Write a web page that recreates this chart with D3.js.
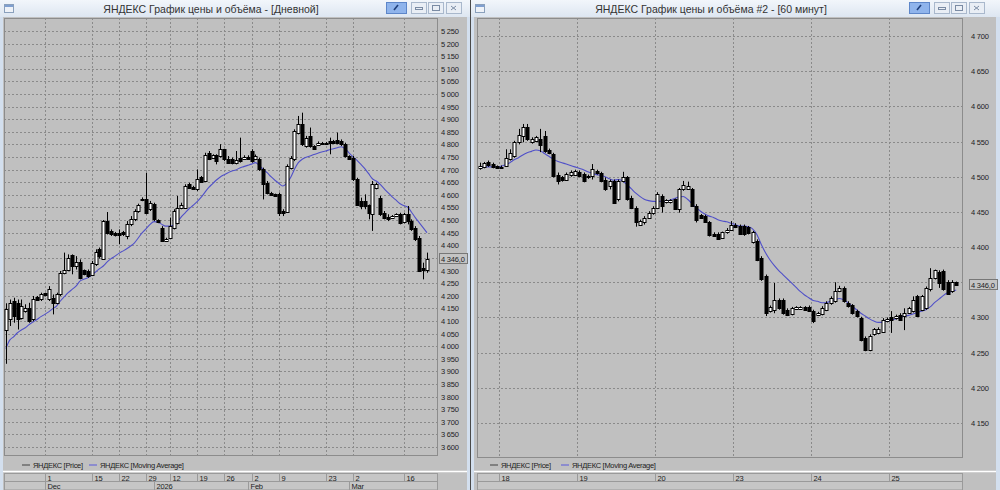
<!DOCTYPE html>
<html><head><meta charset="utf-8">
<script src="https://cdn.jsdelivr.net/npm/d3@7"></script>
<style>
body{margin:0;background:#dce6f2;}
svg{display:block;}
text{font-family:"Liberation Sans",Arial,sans-serif;}
</style></head><body>
<svg id="c" width="1000" height="490"></svg>
<script>
// ---------- DATA: daily chart ----------
const dailyOpen  = [4066,4106,4179,4172,4113,4139,4152,4106,4195,4188,4209,4188,4192,4172,4205,4291,4304,4361,4318,4334,4301,4298,4281,4324,4384,4347,4496,4457,4450,4447,4453,4437,4483,4503,4536,4578,4582,4543,4562,4500,4470,4417,4430,4470,4490,4549,4549,4642,4633,4622,4672,4655,4767,4748,4758,4754,4781,4744,4741,4725,4748,4744,4752,4774,4741,4741,4701,4648,4609,4602,4602,4536,4532,4708,4741,4847,4880,4794,4834,4794,4797,4807,4801,4814,4814,4818,4814,4801,4754,4748,4662,4576,4576,4558,4523,4629,4589,4529,4513,4510,4516,4523,4492,4523,4496,4470,4430,4311,4304];
const dailyHigh  = [4170,4185,4192,4185,4185,4166,4172,4199,4199,4212,4212,4238,4205,4212,4298,4371,4364,4364,4357,4344,4304,4304,4338,4384,4391,4500,4532,4463,4453,4463,4457,4496,4516,4543,4565,4590,4688,4576,4569,4503,4476,4430,4510,4543,4596,4569,4642,4648,4636,4701,4675,4767,4774,4761,4761,4801,4783,4754,4748,4774,4827,4757,4757,4781,4760,4748,4708,4655,4612,4605,4609,4543,4721,4754,4860,4913,4926,4834,4867,4797,4812,4810,4810,4827,4818,4847,4820,4807,4757,4754,4668,4589,4602,4562,4655,4648,4596,4536,4523,4520,4527,4529,4529,4556,4503,4476,4437,4331,4371];
const dailyLow   = [3930,4080,4093,4066,4106,4133,4093,4099,4180,4179,4198,4179,4126,4166,4199,4285,4298,4285,4304,4265,4281,4271,4278,4318,4347,4344,4443,4437,4435,4404,4437,4424,4476,4496,4529,4575,4523,4536,4496,4488,4413,4413,4426,4463,4483,4543,4545,4625,4620,4615,4648,4651,4738,4744,4721,4748,4734,4725,4721,4721,4728,4741,4740,4728,4738,4695,4582,4602,4596,4592,4516,4516,4529,4701,4734,4840,4794,4787,4787,4780,4794,4798,4798,4761,4804,4801,4794,4748,4740,4655,4556,4543,4543,4503,4457,4622,4516,4503,4496,4506,4513,4483,4487,4483,4457,4417,4294,4265,4291];
const dailyClose = [4146,4172,4119,4106,4159,4152,4099,4188,4185,4205,4201,4225,4170,4205,4291,4304,4351,4318,4334,4271,4285,4278,4331,4373,4357,4496,4450,4443,4440,4440,4443,4483,4503,4536,4558,4584,4529,4569,4503,4492,4417,4426,4476,4536,4549,4558,4635,4629,4625,4662,4651,4757,4744,4757,4734,4781,4741,4728,4725,4737,4734,4752,4744,4734,4754,4701,4642,4609,4599,4596,4529,4527,4715,4748,4853,4880,4801,4827,4794,4783,4807,4801,4807,4805,4807,4807,4801,4754,4744,4662,4558,4556,4556,4529,4642,4642,4523,4510,4506,4516,4523,4490,4523,4496,4463,4424,4298,4302,4346];
const dailyMA    = [3990,4024,4037,4053,4064,4073,4086,4096,4106,4117,4126,4136,4148,4159,4179,4196,4212,4225,4238,4258,4265,4271,4281,4294,4307,4318,4334,4347,4357,4368,4377,4386,4397,4410,4430,4450,4466,4483,4494,4492,4483,4476,4476,4479,4492,4513,4529,4545,4558,4572,4589,4609,4629,4644,4659,4671,4680,4688,4695,4699,4707,4712,4717,4722,4728,4717,4701,4688,4672,4658,4646,4635,4646,4668,4701,4728,4741,4749,4754,4760,4765,4770,4774,4779,4783,4787,4791,4783,4767,4752,4738,4722,4705,4685,4664,4655,4642,4625,4609,4593,4580,4566,4558,4552,4532,4510,4490,4470,4450];
const dailyWeekTickIndex  = [10,22,29,36,42,49,56,63,70,82,89,102];
const dailyWeekTickLabels = ["1","15","22","29","12","19","26","2","9","23","2","16"];
const dailyMonthTickIndex  = [10,38,62,88];
const dailyMonthTickLabels = ["Dec","2026","Feb","Mar"];
const dailyPriceTicks = d3.range(3600, 5251, 50);

// ---------- DATA: 60-minute chart ----------
const hourOpen  = [4513,4514,4521,4518,4515,4513,4515,4525,4530,4549,4558,4570,4549,4551,4553,4558,4538,4532,4503,4499,4496,4502,4503,4507,4504,4499,4501,4508,4505,4496,4487,4494,4468,4494,4499,4470,4456,4432,4435,4442,4449,4456,4473,4464,4464,4468,4454,4482,4483,4482,4458,4445,4444,4435,4419,4419,4413,4421,4425,4432,4430,4430,4428,4407,4409,4385,4359,4309,4311,4325,4325,4311,4305,4312,4312,4315,4315,4309,4304,4305,4311,4320,4323,4337,4342,4321,4317,4309,4299,4271,4254,4276,4278,4280,4295,4301,4299,4304,4302,4307,4309,4330,4311,4313,4340,4356,4365,4366,4351,4337,4350];
const hourHigh  = [4520,4521,4523,4520,4516,4516,4539,4539,4551,4568,4575,4575,4556,4558,4568,4565,4540,4534,4506,4501,4506,4509,4510,4509,4506,4503,4518,4510,4507,4499,4496,4496,4496,4507,4501,4473,4458,4439,4444,4451,4458,4478,4475,4468,4468,4469,4484,4494,4493,4484,4461,4447,4446,4437,4421,4421,4422,4427,4437,4434,4432,4432,4430,4423,4411,4387,4361,4317,4349,4327,4327,4313,4315,4316,4316,4316,4317,4311,4308,4316,4323,4330,4350,4345,4344,4323,4319,4311,4301,4273,4276,4285,4286,4299,4300,4309,4304,4306,4313,4315,4330,4332,4332,4344,4370,4368,4367,4368,4353,4353,4351];
const hourLow   = [4510,4512,4514,4512,4511,4512,4514,4523,4527,4546,4549,4551,4547,4549,4535,4534,4532,4499,4489,4493,4494,4500,4501,4499,4492,4497,4496,4503,4492,4480,4482,4462,4465,4492,4466,4454,4429,4430,4432,4440,4446,4454,4449,4462,4462,4453,4449,4480,4482,4457,4435,4441,4435,4415,4415,4412,4413,4419,4423,4427,4418,4416,4418,4405,4380,4352,4302,4307,4306,4311,4304,4302,4303,4311,4311,4310,4309,4292,4302,4303,4309,4318,4321,4336,4321,4314,4304,4300,4266,4252,4252,4274,4276,4278,4293,4278,4297,4296,4282,4305,4307,4301,4309,4311,4337,4354,4342,4338,4332,4335,4345];
const hourClose = [4515,4519,4516,4514,4513,4514,4527,4534,4549,4560,4570,4553,4554,4556,4545,4537,4534,4501,4494,4495,4504,4507,4508,4501,4494,4501,4511,4505,4494,4482,4494,4463,4494,4499,4468,4456,4435,4437,4442,4449,4456,4475,4458,4467,4467,4454,4482,4488,4487,4458,4439,4442,4435,4417,4416,4412,4421,4425,4432,4428,4418,4418,4420,4421,4382,4354,4306,4315,4325,4313,4306,4304,4313,4315,4315,4311,4309,4295,4306,4314,4321,4328,4337,4342,4323,4316,4306,4302,4268,4254,4273,4283,4284,4297,4298,4297,4302,4297,4307,4313,4325,4302,4330,4342,4356,4367,4349,4340,4333,4351,4346];
const hourMA    = [4514,4514,4514,4514,4514,4515,4517,4520,4524,4527,4531,4534,4536,4538,4537,4533,4529,4525,4522,4520,4518,4516,4514,4512,4510,4507,4505,4503,4502,4500,4497,4495,4496,4494,4489,4483,4477,4472,4468,4466,4465,4465,4465,4465,4467,4469,4471,4472,4468,4462,4456,4451,4447,4444,4442,4439,4437,4436,4434,4432,4430,4430,4429,4426,4418,4404,4392,4382,4374,4367,4361,4355,4349,4343,4337,4332,4328,4324,4323,4321,4321,4323,4325,4327,4325,4321,4316,4311,4306,4302,4298,4295,4293,4293,4295,4296,4298,4300,4302,4303,4305,4307,4309,4311,4315,4321,4326,4331,4335,4337,4339];
const hourDayTickIndex  = [5,23,41,59,77,95];
const hourDayTickLabels = ["18","19","20","23","24","25"];
const hourPriceTicks = d3.range(4150, 4701, 50);
const lastPriceLabel = "4 346,0";

// ---------- DRAW ----------
const svg = d3.select("#c");
const fmt = v => d3.format(",")(v).replace(",", " ");

function windowFrame(x0, w, title, titleCx, btnX) {
  const g = svg.append("g");
  g.append("rect").attr("x", x0).attr("y", 0).attr("width", w).attr("height", 490).attr("fill", "#d3dfee");
  const grad = "tg" + x0;
  const lg = svg.append("defs").append("linearGradient").attr("id", grad).attr("x1",0).attr("y1",0).attr("x2",0).attr("y2",1);
  lg.append("stop").attr("offset","0").attr("stop-color","#f2f6fb");
  lg.append("stop").attr("offset","1").attr("stop-color","#dde6f1");
  g.append("rect").attr("x", x0).attr("y", 0).attr("width", w).attr("height", 17).attr("fill", `url(#${grad})`);
  g.append("rect").attr("x", x0 + 4.5).attr("y", 4.5).attr("width", 9).attr("height", 8).attr("fill", "#eef2f8").attr("stroke", "#8aa0bc");
  g.append("rect").attr("x", x0 + 5).attr("y", 5).attr("width", 8).attr("height", 2).attr("fill", "#7f9fd0");
  g.append("text").attr("x", titleCx).attr("y", 12.5).attr("text-anchor", "middle")
    .attr("font-size", 10.5).attr("fill", "#333").text(title);
  g.append("rect").attr("x", btnX + 0.5).attr("y", 2.5).attr("width", 20).attr("height", 11).attr("fill", "#8fb4ec").attr("stroke", "#5d86c9");
  g.append("path").attr("d", `M${btnX+8},${10} l4,-5`).attr("stroke", "#1f3f7a").attr("stroke-width", 1.6);
  [25, 42, 60].forEach((dx, k) => {
    g.append("rect").attr("x", btnX + dx + 0.5).attr("y", 2.5).attr("width", 15).attr("height", 11).attr("fill", "#e9eef5").attr("stroke", "#a9b8cc");
    if (k === 0) g.append("rect").attr("x", btnX + dx + 4.5).attr("y", 7.5).attr("width", 7).attr("height", 2).attr("fill", "none").attr("stroke", "#7a8ba4");
    if (k === 1) g.append("rect").attr("x", btnX + dx + 4.5).attr("y", 5.5).attr("width", 7).attr("height", 5).attr("fill", "none").attr("stroke", "#7a8ba4");
    if (k === 2) g.append("path").attr("d", `M${btnX+dx+5},6 l5,4 M${btnX+dx+10},6 l-5,4`).attr("stroke", "#7a8ba4");
  });
}

function chart(opt) {
  const g = svg.append("g");
  const { L, R, T, B, n } = opt;
  g.append("rect").attr("x", opt.areaX).attr("y", 17).attr("width", opt.areaW).attr("height", 473).attr("fill", "#c0c0c0");
  const x = d3.scaleLinear().domain([0, n - 1]).range([opt.c0, opt.c1]);
  const y = d3.scaleLinear().domain(opt.yDomain).range([opt.yTop, opt.yBot]);
  g.append("g").selectAll("line").data(opt.priceTicks).join("line")
    .attr("x1", L).attr("x2", R + 3).attr("y1", d => Math.round(y(d)) + 0.5).attr("y2", d => Math.round(y(d)) + 0.5)
    .attr("stroke", "#8a8a8a").attr("stroke-dasharray", "2,2");
  g.append("g").selectAll("line").data(opt.vTicks).join("line")
    .attr("x1", d => Math.round(x(d + opt.vOff)) + 0.5).attr("x2", d => Math.round(x(d + opt.vOff)) + 0.5)
    .attr("y1", T).attr("y2", B).attr("stroke", "#8a8a8a").attr("stroke-dasharray", "2,2");
  g.append("rect").attr("x", L + 0.5).attr("y", T + 0.5).attr("width", R - L).attr("height", B - T)
    .attr("fill", "none").attr("stroke", "#8c8c8c");
  const ly = y(opt.close[n - 1]);
  g.append("g").selectAll("text").data(opt.priceTicks.filter(d => Math.abs(y(d) - ly) > 6)).join("text")
    .attr("x", opt.labX).attr("y", d => y(d) + 3).attr("font-size", 7.5).attr("letter-spacing", -0.2)
    .attr("fill", "#222").text(d => fmt(d));
  const line = d3.line().x((d, i) => x(i)).y(d => y(d)).curve(d3.curveMonotoneX);
  g.append("path").attr("d", line(opt.ma)).attr("fill", "none").attr("stroke", "#5050c8").attr("stroke-width", 1.1);
  const cg = g.append("g");
  opt.open.forEach((o, i) => {
    const c = opt.close[i], h = opt.high[i], l = opt.low[i];
    const cx = Math.round(x(i)) + 0.5;
    cg.append("line").attr("x1", cx).attr("x2", cx).attr("y1", y(h)).attr("y2", y(l)).attr("stroke", "#000");
    const top = Math.round(y(Math.max(o, c))), bot = Math.round(y(Math.min(o, c)));
    const hgt = Math.max(1, bot - top);
    if (c >= o) {
      cg.append("rect").attr("x", cx - 1.5).attr("y", top + 0.5).attr("width", opt.bw).attr("height", hgt)
        .attr("fill", "#fff").attr("stroke", "#000").attr("stroke-width", 1);
    } else {
      cg.append("rect").attr("x", cx - 2).attr("y", top).attr("width", opt.bw + 1).attr("height", hgt + 1).attr("fill", "#000");
    }
  });
  g.append("rect").attr("x", opt.labX - 1.5).attr("y", Math.round(ly) - 5.5).attr("width", 28).attr("height", 10)
    .attr("fill", "#c4c4c4").attr("stroke", "#777");
  g.append("text").attr("x", opt.labX).attr("y", ly + 3).attr("font-size", 7.5).attr("letter-spacing", -0.2).attr("fill", "#222").text(lastPriceLabel);
  const lgY = 465;
  g.append("line").attr("x1", opt.legX).attr("x2", opt.legX + 8).attr("y1", lgY).attr("y2", lgY).attr("stroke", "#555").attr("stroke-width", 1.2);
  g.append("text").attr("x", opt.legX + 11).attr("y", lgY + 2.5).attr("font-size", 7.5).attr("letter-spacing", -0.3).attr("fill", "#222").text("ЯНДЕКС [Price]");
  g.append("line").attr("x1", opt.legX2).attr("x2", opt.legX2 + 8).attr("y1", lgY).attr("y2", lgY).attr("stroke", "#6a6ad8").attr("stroke-width", 1.2);
  g.append("text").attr("x", opt.legX2 + 11).attr("y", lgY + 2.5).attr("font-size", 7.5).attr("letter-spacing", -0.3).attr("fill", "#222").text("ЯНДЕКС [Moving Average]");
  g.append("line").attr("x1", opt.areaX).attr("x2", opt.areaX + opt.areaW).attr("y1", 471.5).attr("y2", 471.5).attr("stroke", "#fff").attr("stroke-width", 1.5);
  g.append("rect").attr("x", L + 0.5).attr("y", 473.5).attr("width", R - L).attr("height", 8).attr("fill", "#c6c6c6").attr("stroke", "#9a9a9a");
  g.append("rect").attr("x", L + 0.5).attr("y", 481.5).attr("width", R - L).attr("height", 8.5).attr("fill", "#c6c6c6").attr("stroke", "#9a9a9a");
  const row = (idx, labels, yy, y1, y2) => {
    idx.forEach((d, k) => {
      const xx = Math.round(x(d + opt.vOff)) + 0.5;
      g.append("line").attr("x1", xx).attr("x2", xx).attr("y1", y1).attr("y2", y2).attr("stroke", "#9a9a9a");
      g.append("text").attr("x", xx + 2).attr("y", yy).attr("font-size", 7.5).attr("letter-spacing", -0.2).attr("fill", "#222").text(labels[k]);
    });
  };
  row(opt.vTicks, opt.vLabels, 480.5, 473.5, 481.5);
  if (opt.mTicks) row(opt.mTicks, opt.mLabels, 489, 481.5, 490);
}

windowFrame(0, 470, "ЯНДЕКС График цены и объёма - [Дневной]", 211, 386);
windowFrame(471, 529, "ЯНДЕКС График цены и объёма #2 - [60 минут]", 711, 909);
svg.append("line").attr("x1", 470.5).attr("x2", 470.5).attr("y1", 0).attr("y2", 490).attr("stroke", "#4a4a4a");

chart({
  L: 4, R: 437, T: 18, B: 455, n: dailyOpen.length, areaX: 3, areaW: 464,
  c0: 5.8, c1: 427, yDomain: [5250, 3600], yTop: 31, yBot: 447, priceTicks: dailyPriceTicks,
  vTicks: dailyWeekTickIndex, vLabels: dailyWeekTickLabels, vOff: 0,
  mTicks: dailyMonthTickIndex, mLabels: dailyMonthTickLabels,
  labX: 441, ma: dailyMA, open: dailyOpen, high: dailyHigh, low: dailyLow, close: dailyClose, bw: 3,
  legX: 22, legX2: 89
});
chart({
  L: 477, R: 962, T: 18, B: 457, n: hourOpen.length, areaX: 474, areaW: 522,
  c0: 479.5, c1: 956.2, yDomain: [4700, 4150], yTop: 36, yBot: 423, priceTicks: hourPriceTicks,
  vTicks: hourDayTickIndex, vLabels: hourDayTickLabels, vOff: -0.5,
  labX: 971, ma: hourMA, open: hourOpen, high: hourHigh, low: hourLow, close: hourClose, bw: 3,
  legX: 490, legX2: 561
});
</script>
</body></html>
